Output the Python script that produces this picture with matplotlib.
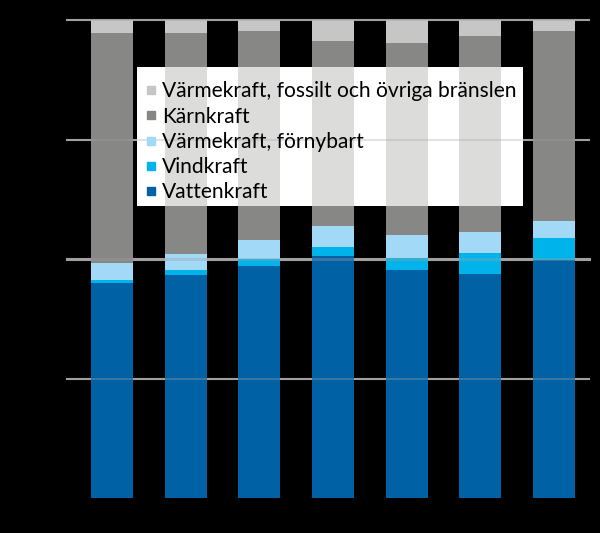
import matplotlib.pyplot as plt
import matplotlib.patches as mpatches
from matplotlib.lines import Line2D
from matplotlib.transforms import IdentityTransform
import numpy as np

# share of electricity production, percent per bar
bars = ['1', '2', '3', '4', '5', '6', '7']
vatten = [44.9, 46.7, 48.6, 50.7, 47.8, 46.9, 49.8]
vind = [0.7, 1.0, 1.4, 1.9, 2.5, 4.4, 4.6]
fornybart = [3.5, 3.4, 3.9, 4.2, 4.8, 4.3, 3.5]
karn = [48.1, 46.1, 43.7, 38.9, 40.0, 41.1, 39.7]
fossil = [2.8, 2.8, 2.4, 4.3, 4.9, 3.3, 2.4]

labels = ['Vattenkraft', 'Vindkraft', 'Värmekraft, förnybart', 'Kärnkraft',
          'Värmekraft, fossilt och övriga bränslen']
colors = ['#0061a5', '#00b4eb', '#a2d9f6', '#878786', '#c6c6c6']
series = [vatten, vind, fornybart, karn, fossil]
gridvals = [25, 50, 75, 100]

fig = plt.figure(figsize=(6, 5.33), dpi=100, facecolor='black')
ax = fig.add_axes([67 / 600, 1 - 498 / 533, 522 / 600, 478 / 533])
ax.set_facecolor('black')

x = np.arange(len(bars))
width = 0.57


def stack(ax, alpha=1.0, zorder=2):
    bottom = np.zeros(len(bars))
    out = []
    for vals, col in zip(series, colors):
        b = ax.bar(x, vals, width, bottom=bottom, color=col, alpha=alpha,
                   zorder=zorder, linewidth=0)
        bottom += np.array(vals)
        out.append(b)
    return out


# gridlines: one behind the bars, one faint copy on top
for g in gridvals:
    lw = 2.2 if g == 50 else 1.5
    ax.axhline(g, color='#a0a0a0', lw=lw, zorder=1, clip_on=False)
    ax.axhline(g, color='#a0a0a0', lw=lw, alpha=0.35, zorder=3, clip_on=False)

stack(ax)

ax.set_xlim(-0.611, 6.475)
ax.set_ylim(0, 100)
ax.set_xticks([])
ax.set_yticks([])
for s in ax.spines.values():
    s.set_visible(False)

handles = [Line2D([], [], marker='s', ls='', color=c, markersize=6)
           for c in colors][::-1]
leg = ax.legend(handles, labels[::-1], loc='upper left',
                bbox_to_anchor=(137 / 600, 1 - 72 / 533),
                bbox_transform=fig.transFigure, borderaxespad=0, frameon=False,
                handlelength=0.45, handletextpad=0.3, labelspacing=0.25,
                borderpad=0.45, prop={'family': 'Lato', 'size': 15.1})
leg.set_zorder(7)

# white box behind the legend text, bars show faintly through it
fig.canvas.draw()
ext = leg.get_window_extent()
box = mpatches.Rectangle((ext.x0, ext.y0 + 6), ext.width - 3, ext.height - 1,
                         transform=IdentityTransform(), facecolor='white',
                         edgecolor='none', zorder=5)
ax.add_artist(box)
for bc in stack(ax, alpha=0.29, zorder=6):
    for p in bc.patches:
        p.set_clip_path(box)
for g in gridvals:
    ln = ax.axhline(g, color='#a0a0a0', lw=1.5, alpha=0.29, zorder=6)
    ln.set_clip_path(box)

fig.savefig('out.png', dpi=100, facecolor='black')
